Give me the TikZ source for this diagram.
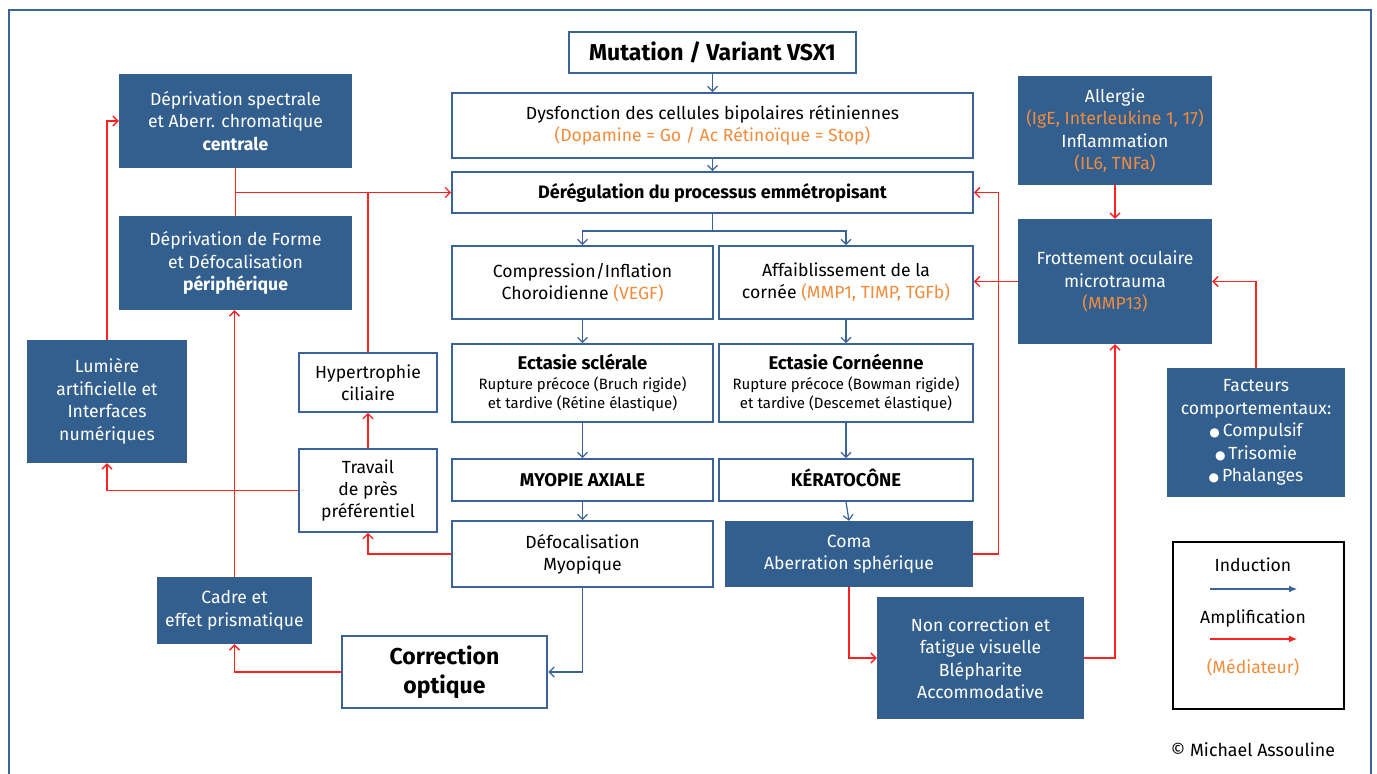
\documentclass[tikz,border=0pt]{standalone}
\usepackage{fontspec}
\setmainfont{Fira Sans}
\newfontfamily\symbfont{DejaVu Sans}
\usetikzlibrary{arrows.meta}
\definecolor{fillblue}{RGB}{51,95,143}
\definecolor{lineblue}{RGB}{58,100,152}
\definecolor{ampred}{RGB}{255,32,32}
\definecolor{medorange}{RGB}{242,140,60}
\newcommand{\med}[1]{\textcolor{medorange}{#1}}
\newcommand{\puce}{{\symbfont\fontsize{12}{12}\selectfont ●}\,}
\tikzset{
  whitebox/.style={draw=lineblue, line width=1.8pt, fill=white, align=center, inner sep=0pt,
    font=\fontsize{17.6}{22}\selectfont},
  bluebox/.style={fill=fillblue, text=white, align=center, inner sep=0pt,
    font=\fontsize{17.6}{22.5}\selectfont},
  ind/.style={lineblue, line width=1.2pt, -{Straight Barb[length=5pt,width=10pt]}},
  amp/.style={ampred, line width=1.3pt, -{Straight Barb[length=5pt,width=10pt]}},
}
\begin{document}
\begin{tikzpicture}[x=1pt,y=-1pt]
    \useasboundingbox (0,0) rectangle (1377,774);
    %% frame
    \draw[lineblue, line width=2.2pt] (9,774) -- (9,10) -- (1371,10) -- (1371,774);
    %% central column
    \node[whitebox, line width=2.8pt, minimum width=287pt, minimum height=41pt,
      font=\fontsize{23}{26}\bfseries] (mut) at (712.5,52.5) {Mutation / Variant VSX1};
    \node[whitebox, minimum width=521pt, minimum height=65pt] (dys) at (712.5,125.5)
      {Dysfonction des cellules bipolaires rétiniennes\\ \med{(Dopamine = Go / Ac Rétinoïque = Stop)}};
    \node[whitebox, minimum width=521pt, minimum height=41pt, font=\fontsize{18}{20}\bfseries]
      (dereg) at (712.5,192.5) {Dérégulation du processus emmétropisant};
    \node[whitebox, minimum width=261pt, minimum height=73pt] (comp) at (582.5,282.5)
      {Compression/Inflation\\ Choroidienne \med{(VEGF)}};
    \node[whitebox, minimum width=254pt, minimum height=73pt] (affai) at (846,282.5)
      {Affaiblissement de la\\ cornée \med{(MMP1, TIMP, TGFb)}};
    \node[whitebox, minimum width=261pt, minimum height=78pt, font=\fontsize{15}{19.5}\selectfont]
      (ectS) at (582.5,383) {{\fontsize{18.5}{20}\bfseries Ectasie sclérale}\\
      Rupture précoce (Bruch rigide)\\ et tardive (Rétine élastique)};
    \node[whitebox, minimum width=254pt, minimum height=78pt, font=\fontsize{15}{19.5}\selectfont]
      (ectC) at (846,383) {{\fontsize{18.5}{20}\bfseries Ectasie Cornéenne}\\
      Rupture précoce (Bowman rigide)\\ et tardive (Descemet élastique)};
    \node[whitebox, minimum width=261pt, minimum height=42pt, font=\fontsize{18.5}{20}\bfseries]
      (myo) at (582.5,480) {MYOPIE AXIALE};
    \node[whitebox, minimum width=254pt, minimum height=42pt, font=\fontsize{18.5}{20}\bfseries,
      text height=13pt, text depth=0pt] (kera) at (846,480) {KÉRATOCÔNE};
    \node[whitebox, minimum width=261pt, minimum height=66pt] (defoc) at (582.5,554)
      {Défocalisation\\ Myopique};
    \node[bluebox, minimum width=248pt, minimum height=66pt] (coma) at (849,554)
      {Coma\\ Aberration sphérique};
    \node[whitebox, line width=2.8pt, minimum width=205pt, minimum height=72pt,
      font=\fontsize{23}{29}\bfseries] (corr) at (444.5,672) {Correction\\ optique};
    \node[bluebox, minimum width=207pt, minimum height=122pt] (nonc) at (980.5,658)
      {Non correction et\\ fatigue visuelle\\ Blépharite\\ Accommodative};
    %% left column
    \node[bluebox, minimum width=233pt, minimum height=94pt] (spec) at (235.5,121)
      {Déprivation spectrale\\ et Aberr. chromatique\\ \textbf{centrale}};
    \node[bluebox, minimum width=233pt, minimum height=94pt] (forme) at (235.5,263)
      {Déprivation de Forme\\ et Défocalisation\\ \textbf{périphérique}};
    \node[bluebox, minimum width=160pt, minimum height=123pt] (lum) at (107,401.5)
      {Lumière\\ artificielle et\\ Interfaces\\ numériques};
    \node[whitebox, minimum width=138pt, minimum height=59pt] (hyper) at (368,382.5)
      {Hypertrophie\\ ciliaire};
    \node[whitebox, minimum width=138pt, minimum height=83pt] (trav) at (368,490.5)
      {Travail\\ de près\\ préférentiel};
    \node[bluebox, minimum width=155pt, minimum height=67pt] (cadre) at (234.5,610.5)
      {Cadre et\\ effet prismatique};
    %% right column
    \node[bluebox, minimum width=194pt, minimum height=109pt] (allerg) at (1115,130.5)
      {Allergie\\ \med{(IgE, Interleukine 1, 17)}\\ Inflammation\\ \med{(IL6, TNFa)}};
    \node[bluebox, minimum width=194pt, minimum height=125pt] (frot) at (1115,281.5)
      {Frottement oculaire\\ microtrauma\\ \med{(MMP13)}};
    \node[bluebox, minimum width=178pt, minimum height=129pt] (fact) at (1256,432.5)
      {Facteurs\\ comportementaux:\\ \puce Compulsif\\ \puce Trisomie\\ \puce Phalanges};
    %% legend
    \node[draw=black, line width=2.6pt, minimum width=171pt, minimum height=167pt] (legend)
      at (1258.5,625.5) {};
    \node[font=\fontsize{17.6}{20}\selectfont] (lind) at (1253,565) {Induction};
    \node[font=\fontsize{17.6}{20}\selectfont] (lamp) at (1253,619) {Amplification};
    \node[font=\fontsize{17.6}{20}\selectfont, text=medorange] (lmed) at (1253,667) {(Médiateur)};
    \coordinate (i1) at (1210,589);
    \coordinate (i2) at (1297,589);
    \coordinate (a1) at (1210,639);
    \coordinate (a2) at (1297,639);
    \draw[lineblue, line width=1.2pt, -{Latex[length=8pt,width=7pt]}] (i1) -- (i2);
    \draw[ampred, line width=1.2pt, -{Latex[length=8pt,width=7pt]}] (a1) -- (a2);
    \node[font=\fontsize{17.8}{20}\selectfont] (copy) at (1253,750) {© Michael Assouline};
    %% induction
    \draw[ind] (mut) -- (dys);
    \draw[ind] (dys) -- (dereg);
    \draw[ind] (dereg.south) -- ++(0,17) -| (comp.north);
    \draw[ind] (dereg.south) -- ++(0,17) -| (affai.north);
    \draw[ind] (comp) -- (ectS);
    \draw[ind] (affai) -- (ectC);
    \draw[ind] (ectS) -- (myo);
    \draw[ind] (ectC) -- (kera);
    \draw[ind] (myo) -- (defoc);
    \draw[ind] (kera.south) -- (coma.north);
    \draw[ind] (defoc.south) |- (corr.east);
    %% amplification
    \draw[ampred, line width=1.3pt] (spec.south) -- (forme.north);
    \draw[ampred, line width=1.3pt] (hyper.north) -- (hyper.north |- dereg.west);
    \draw[amp] (spec.south |- dereg.west) -- (dereg.west);
    \draw[amp] (lum.north) |- (spec.west);
    \draw[amp] (cadre.north) -- (cadre.north |- forme.south);
    \draw[amp] (trav.west) -| (lum.south);
    \draw[amp] (trav) -- (hyper);
    \draw[amp] (defoc.west) -| (trav.south);
    \draw[amp] (corr.west) -| (cadre.south);
    \draw[amp] (coma.east) -- ++(25,0) |- (dereg.east);
    \draw[amp] (coma.south) |- (nonc.west);
    \draw[amp] (nonc.east) -| (frot.south);
    \draw[amp] (allerg) -- (frot);
    \draw[amp] (fact.north) |- (frot.east);
    \draw[amp] (frot.west) -- (frot.west -| affai.east);
\end{tikzpicture}
\end{document}
